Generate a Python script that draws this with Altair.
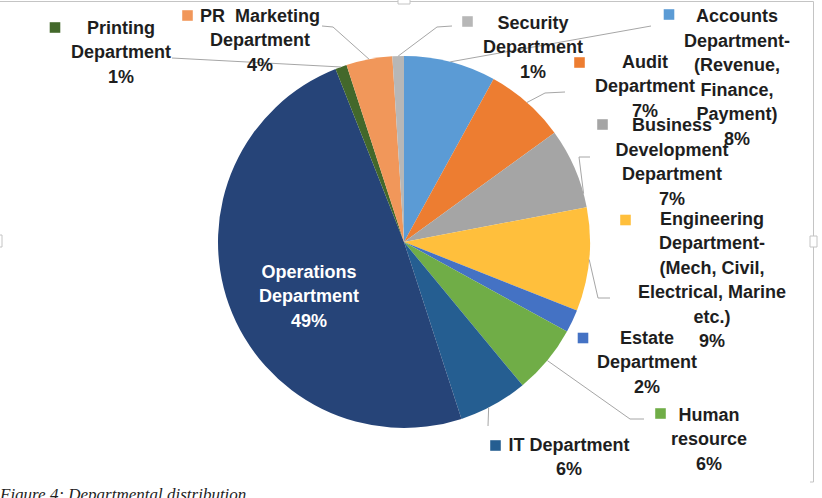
import math

import altair as alt
import pandas as pd

# ---- data -----------------------------------------------------------------
departments = [
    "Accounts Department-(Revenue, Finance, Payment)",
    "Audit Department",
    "Business Development Department",
    "Engineering Department-(Mech, Civil, Electrical, Marine etc.)",
    "Estate Department",
    "Human resource",
    "IT Department",
    "Operations Department",
    "Printing Department",
    "PR  Marketing Department",
    "Security Department",
]
shares = [8, 7, 7, 9, 2, 6, 6, 49, 1, 4, 1]
label_lines = [
    ["Accounts", "Department-", "(Revenue,", "Finance,", "Payment)"],
    ["Audit", "Department"],
    ["Business", "Development", "Department"],
    ["Engineering", "Department-", "(Mech, Civil,", "Electrical, Marine", "etc.)"],
    ["Estate", "Department"],
    ["Human", "resource"],
    ["IT Department"],
    ["Operations", "Department"],
    ["Printing", "Department"],
    ["PR\u00a0 Marketing", "Department"],
    ["Security", "Department"],
]
caption = "Figure 4: Departmental distribution"

# ---- styling / layout -------------------------------------------------------
slice_colors = [
    "#5B9BD5", "#ED7D31", "#A5A5A5", "#FFBF3C", "#4472C4", "#70AD47",
    "#255E91", "#264478", "#43682B", "#F1975A", "#B7B7B7",
]
CX, CY, R = 404, 242, 186
LINE_H = 24.5
FONT = "Liberation Sans"
TEXT_COLOR = "#1e1e1e"
LEADER_COLOR = "#A6A6A6"

# label block centre (px) per department
label_pos = [
    (737, 78.5), (645, 87), (672, 163), (712, 281), (647, 363), (709, 440),
    (569, 458), (309, 297), (121, 53), (260, 41), (533, 48),
]
# legend-key square centre (px); None = no key
key_pos = [
    (669, 14.5), (579.5, 62.5), (602.5, 124.5), (625.5, 220), (583, 338),
    (660.5, 413.5), (495.5, 445.5), None, (55, 27.5), (187.5, 15.5),
    (467.5, 21.5),
]
# leader lines: where on the slice they start (fraction of its sweep) and
# the bends / end point near the label
leaders = {
    0: (0.5, [(651, 26)]),
    1: (0.5, [(545, 93), (565, 92)]),
    2: (0.83, [(579, 157), (590, 157)]),
    3: (0.5, [(598, 298), (610, 298)]),
    5: (0.5, [(630, 419), (644, 419)]),
    6: (0.58, [(488, 426)]),
    8: (0.5, [(172, 58)]),
    9: (0.5, [(333, 27), (322, 26)]),
    10: (0.5, [(437, 27), (452, 26)]),
}

# ---- tables -----------------------------------------------------------------
pie_df = pd.DataFrame({"dept": departments, "share": shares,
                       "order": range(len(departments))})

color_scale = alt.Scale(domain=departments, range=slice_colors)

text_rows = []
for i, (dept, lines, share) in enumerate(zip(departments, label_lines, shares)):
    all_lines = lines + [f"{share}%"]
    cx, cy = label_pos[i]
    n = len(all_lines)
    for j, line in enumerate(all_lines):
        text_rows.append({
            "dept": dept, "line": line, "x": cx,
            "y": cy + (j - (n - 1) / 2) * LINE_H,
            "inside": dept == "Operations Department",
        })
text_df = pd.DataFrame(text_rows)

key_df = pd.DataFrame([
    {"dept": d, "x": p[0], "y": p[1]}
    for d, p in zip(departments, key_pos) if p is not None
])

total = sum(shares)
leader_rows = []
cum = 0.0
for i, s in enumerate(shares):
    if i in leaders:
        frac, pts = leaders[i]
        ang = 2 * math.pi * (cum + frac * s) / total
        sx, sy = CX + R * math.sin(ang), CY - R * math.cos(ang)
        leader_rows.append({"dept": departments[i], "seq": 0, "x": sx, "y": sy})
        for k, (px, py) in enumerate(pts, start=1):
            leader_rows.append({"dept": departments[i], "seq": k, "x": px, "y": py})
    cum += s
leader_df = pd.DataFrame(leader_rows)

px = dict(scale=None, axis=None)

# ---- layers -----------------------------------------------------------------
shadow = alt.Chart(pd.DataFrame({"v": [1]})).mark_arc(
    outerRadius=R + 1.5, color="#9a9a9a", opacity=0.22
).encode(theta=alt.Theta("v:Q"), x=alt.value(CX + 1), y=alt.value(CY + 2))

pie = alt.Chart(pie_df).mark_arc(outerRadius=R).encode(
    theta=alt.Theta("share:Q", stack=True),
    order=alt.Order("order:Q"),
    color=alt.Color("dept:N", scale=color_scale, legend=None),
    x=alt.value(CX),
    y=alt.value(CY),
)

leader = alt.Chart(leader_df).mark_line(
    color=LEADER_COLOR, strokeWidth=1
).encode(
    x=alt.X("x:Q", **px), y=alt.Y("y:Q", **px),
    detail="dept:N", order="seq:Q",
)

keys = alt.Chart(key_df).mark_square(size=112, opacity=1).encode(
    x=alt.X("x:Q", **px), y=alt.Y("y:Q", **px),
    color=alt.Color("dept:N", scale=color_scale, legend=None),
)

labels = alt.Chart(text_df).mark_text(
    font=FONT, fontSize=18, fontWeight="bold", align="center",
    baseline="middle",
).encode(
    x=alt.X("x:Q", **px), y=alt.Y("y:Q", **px),
    text="line:N",
    color=alt.condition("datum.inside", alt.value("#ffffff"),
                        alt.value(TEXT_COLOR)),
)

caption_text = alt.Chart(pd.DataFrame({"t": [caption]})).mark_text(
    font="Liberation Serif", fontSize=17, fontStyle="italic", align="left",
    baseline="alphabetic", color=TEXT_COLOR,
).encode(text="t:N", x=alt.value(0), y=alt.value(500))

# chart frame with its selection handles
frame_df = pd.DataFrame([
    {"x": 0, "x2": 813.5, "y": 1.5, "y2": 1.5},
    {"x": 813.5, "x2": 813.5, "y": 1.5, "y2": 482},
    {"x": 810, "x2": 813.5, "y": 482, "y2": 482},
])
frame = alt.Chart(frame_df).mark_rule(color="#C4C4C4", strokeWidth=1).encode(
    x=alt.X("x:Q", **px), x2="x2:Q", y=alt.Y("y:Q", **px), y2="y2:Q",
)
handle_df = pd.DataFrame([
    {"x": 398, "x2": 410, "y": -2, "y2": 4},
    {"x": 810, "x2": 817, "y": 236, "y2": 247},
    {"x": -3, "x2": 2, "y": 235, "y2": 247},
])
handles = alt.Chart(handle_df).mark_rect(
    fill="#ffffff", stroke="#C4C4C4", strokeWidth=1
).encode(
    x=alt.X("x:Q", **px), x2="x2:Q", y=alt.Y("y:Q", **px), y2="y2:Q",
)

chart = alt.layer(
    frame, handles, shadow, pie, leader, keys, labels, caption_text
).properties(
    width=822, height=498, padding=0, autosize="none", background="#ffffff",
).configure_view(stroke=None)

chart.save("out.html", embed_options={"renderer": "svg", "actions": False})
